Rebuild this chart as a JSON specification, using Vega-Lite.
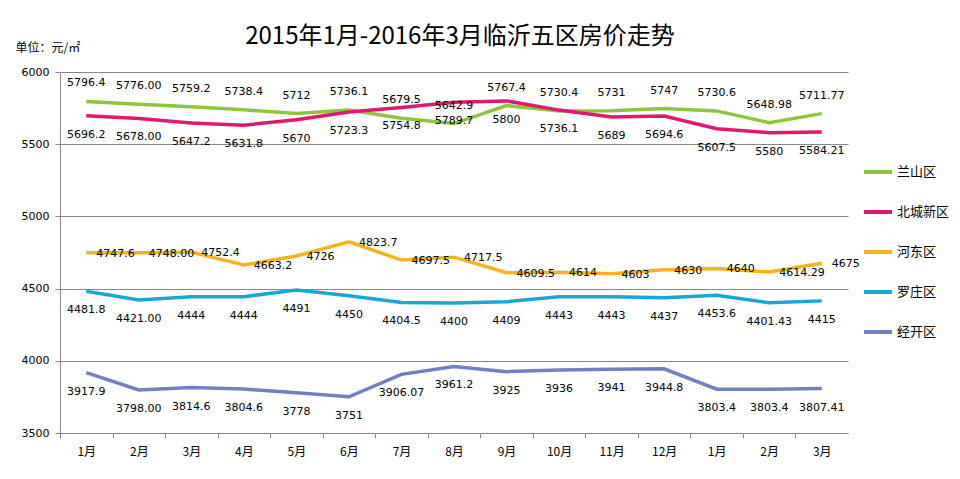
{
  "$schema": "https://vega.github.io/schema/vega-lite/v6.json",
  "width": 788,
  "height": 361,
  "autosize": {"type": "none"},
  "padding": {"left": 60, "top": 72, "right": 112, "bottom": 46},
  "background": "white",
  "title": {
    "text": "2015年1月-2016年3月临沂五区房价走势",
    "font": "Noto Sans CJK SC",
    "fontSize": 24,
    "fontWeight": "normal",
    "color": "#000000",
    "anchor": "middle",
    "baseline": "bottom",
    "offset": -32,
    "dx": 6
  },
  "config": {
    "view": {"stroke": null},
    "axis": {
      "domainColor": "#888888",
      "tickColor": "#888888",
      "gridColor": "#888888",
      "labelColor": "#000000",
      "labelFont": "DejaVu Sans",
      "labelFontSize": 11
    },
    "legend": {
      "labelFont": "Noto Sans CJK SC",
      "labelFontSize": 13,
      "labelColor": "#000000"
    }
  },
  "datasets": {
    "prices": [
      {"district": "兰山区", "month": "2015-01", "value": 5796.4, "label": "5796.4"},
      {"district": "兰山区", "month": "2015-02", "value": 5776.0, "label": "5776.00"},
      {"district": "兰山区", "month": "2015-03", "value": 5759.2, "label": "5759.2"},
      {"district": "兰山区", "month": "2015-04", "value": 5738.4, "label": "5738.4"},
      {"district": "兰山区", "month": "2015-05", "value": 5712, "label": "5712"},
      {"district": "兰山区", "month": "2015-06", "value": 5736.1, "label": "5736.1"},
      {"district": "兰山区", "month": "2015-07", "value": 5679.5, "label": "5679.5"},
      {"district": "兰山区", "month": "2015-08", "value": 5642.9, "label": "5642.9"},
      {"district": "兰山区", "month": "2015-09", "value": 5767.4, "label": "5767.4"},
      {"district": "兰山区", "month": "2015-10", "value": 5730.4, "label": "5730.4"},
      {"district": "兰山区", "month": "2015-11", "value": 5731, "label": "5731"},
      {"district": "兰山区", "month": "2015-12", "value": 5747, "label": "5747"},
      {"district": "兰山区", "month": "2016-01", "value": 5730.6, "label": "5730.6"},
      {"district": "兰山区", "month": "2016-02", "value": 5648.98, "label": "5648.98"},
      {"district": "兰山区", "month": "2016-03", "value": 5711.77, "label": "5711.77"},
      {"district": "北城新区", "month": "2015-01", "value": 5696.2, "label": "5696.2"},
      {"district": "北城新区", "month": "2015-02", "value": 5678.0, "label": "5678.00"},
      {"district": "北城新区", "month": "2015-03", "value": 5647.2, "label": "5647.2"},
      {"district": "北城新区", "month": "2015-04", "value": 5631.8, "label": "5631.8"},
      {"district": "北城新区", "month": "2015-05", "value": 5670, "label": "5670"},
      {"district": "北城新区", "month": "2015-06", "value": 5723.3, "label": "5723.3"},
      {"district": "北城新区", "month": "2015-07", "value": 5754.8, "label": "5754.8"},
      {"district": "北城新区", "month": "2015-08", "value": 5789.7, "label": "5789.7"},
      {"district": "北城新区", "month": "2015-09", "value": 5800, "label": "5800"},
      {"district": "北城新区", "month": "2015-10", "value": 5736.1, "label": "5736.1"},
      {"district": "北城新区", "month": "2015-11", "value": 5689, "label": "5689"},
      {"district": "北城新区", "month": "2015-12", "value": 5694.6, "label": "5694.6"},
      {"district": "北城新区", "month": "2016-01", "value": 5607.5, "label": "5607.5"},
      {"district": "北城新区", "month": "2016-02", "value": 5580, "label": "5580"},
      {"district": "北城新区", "month": "2016-03", "value": 5584.21, "label": "5584.21"},
      {"district": "河东区", "month": "2015-01", "value": 4747.6, "label": "4747.6"},
      {"district": "河东区", "month": "2015-02", "value": 4748.0, "label": "4748.00"},
      {"district": "河东区", "month": "2015-03", "value": 4752.4, "label": "4752.4"},
      {"district": "河东区", "month": "2015-04", "value": 4663.2, "label": "4663.2"},
      {"district": "河东区", "month": "2015-05", "value": 4726, "label": "4726"},
      {"district": "河东区", "month": "2015-06", "value": 4823.7, "label": "4823.7"},
      {"district": "河东区", "month": "2015-07", "value": 4697.5, "label": "4697.5"},
      {"district": "河东区", "month": "2015-08", "value": 4717.5, "label": "4717.5"},
      {"district": "河东区", "month": "2015-09", "value": 4609.5, "label": "4609.5"},
      {"district": "河东区", "month": "2015-10", "value": 4614, "label": "4614"},
      {"district": "河东区", "month": "2015-11", "value": 4603, "label": "4603"},
      {"district": "河东区", "month": "2015-12", "value": 4630, "label": "4630"},
      {"district": "河东区", "month": "2016-01", "value": 4640, "label": "4640"},
      {"district": "河东区", "month": "2016-02", "value": 4614.29, "label": "4614.29"},
      {"district": "河东区", "month": "2016-03", "value": 4675, "label": "4675"},
      {"district": "罗庄区", "month": "2015-01", "value": 4481.8, "label": "4481.8"},
      {"district": "罗庄区", "month": "2015-02", "value": 4421.0, "label": "4421.00"},
      {"district": "罗庄区", "month": "2015-03", "value": 4444, "label": "4444"},
      {"district": "罗庄区", "month": "2015-04", "value": 4444, "label": "4444"},
      {"district": "罗庄区", "month": "2015-05", "value": 4491, "label": "4491"},
      {"district": "罗庄区", "month": "2015-06", "value": 4450, "label": "4450"},
      {"district": "罗庄区", "month": "2015-07", "value": 4404.5, "label": "4404.5"},
      {"district": "罗庄区", "month": "2015-08", "value": 4400, "label": "4400"},
      {"district": "罗庄区", "month": "2015-09", "value": 4409, "label": "4409"},
      {"district": "罗庄区", "month": "2015-10", "value": 4443, "label": "4443"},
      {"district": "罗庄区", "month": "2015-11", "value": 4443, "label": "4443"},
      {"district": "罗庄区", "month": "2015-12", "value": 4437, "label": "4437"},
      {"district": "罗庄区", "month": "2016-01", "value": 4453.6, "label": "4453.6"},
      {"district": "罗庄区", "month": "2016-02", "value": 4401.43, "label": "4401.43"},
      {"district": "罗庄区", "month": "2016-03", "value": 4415, "label": "4415"},
      {"district": "经开区", "month": "2015-01", "value": 3917.9, "label": "3917.9"},
      {"district": "经开区", "month": "2015-02", "value": 3798.0, "label": "3798.00"},
      {"district": "经开区", "month": "2015-03", "value": 3814.6, "label": "3814.6"},
      {"district": "经开区", "month": "2015-04", "value": 3804.6, "label": "3804.6"},
      {"district": "经开区", "month": "2015-05", "value": 3778, "label": "3778"},
      {"district": "经开区", "month": "2015-06", "value": 3751, "label": "3751"},
      {"district": "经开区", "month": "2015-07", "value": 3906.07, "label": "3906.07"},
      {"district": "经开区", "month": "2015-08", "value": 3961.2, "label": "3961.2"},
      {"district": "经开区", "month": "2015-09", "value": 3925, "label": "3925"},
      {"district": "经开区", "month": "2015-10", "value": 3936, "label": "3936"},
      {"district": "经开区", "month": "2015-11", "value": 3941, "label": "3941"},
      {"district": "经开区", "month": "2015-12", "value": 3944.8, "label": "3944.8"},
      {"district": "经开区", "month": "2016-01", "value": 3803.4, "label": "3803.4"},
      {"district": "经开区", "month": "2016-02", "value": 3803.4, "label": "3803.4"},
      {"district": "经开区", "month": "2016-03", "value": 3807.41, "label": "3807.41"}
    ]
  },
  "data": {"name": "prices"},
  "encoding": {
    "x": {
      "field": "month",
      "type": "ordinal",
      "scale": {"type": "point", "padding": 0.5},
      "axis": {
        "title": null,
        "labelAngle": 0,
        "labelExpr": "toNumber(slice(datum.label, 5)) + '月'",
        "labelFont": "Noto Sans CJK SC",
        "labelFontSize": 12,
        "labelPadding": 8,
        "tickSize": 5,
        "tickOffset": -26.27,
        "labelOffset": 26.27,
        "grid": false
      }
    },
    "y": {
      "field": "value",
      "type": "quantitative",
      "scale": {"domain": [3500, 6000], "nice": false, "zero": false},
      "axis": {
        "values": [3500, 4000, 4500, 5000, 5500, 6000],
        "format": "d",
        "grid": true,
        "tickSize": 5,
        "labelPadding": 6,
        "title": "单位：元/㎡",
        "titleAngle": 0,
        "titleAlign": "left",
        "titleBaseline": "alphabetic",
        "titleX": -45,
        "titleY": -21,
        "titleFont": "Noto Sans CJK SC",
        "titleFontSize": 12,
        "titleFontWeight": "normal",
        "titleColor": "#000000"
      }
    }
  },
  "layer": [
    {
      "mark": {"type": "line", "strokeWidth": 3.5},
      "encoding": {
        "color": {
          "field": "district",
          "type": "nominal",
          "scale": {
            "domain": ["兰山区", "北城新区", "河东区", "罗庄区", "经开区"],
            "range": ["#8CC63F", "#E0186E", "#F5B41E", "#1AA7D6", "#7080C0"]
          },
          "legend": {
            "title": null,
            "orient": "none",
            "legendX": 802,
            "legendY": 84,
            "symbolType": "stroke",
            "symbolStrokeWidth": 4,
            "symbolSize": 784,
            "rowPadding": 16,
            "labelOffset": 3
          }
        }
      }
    },
    {
      "transform": [{"filter": "datum.district === '兰山区'"}],
      "mark": {"type": "text", "dy": -18, "font": "DejaVu Sans", "fontSize": 11, "color": "#000000"},
      "encoding": {"text": {"field": "label"}}
    },
    {
      "transform": [{"filter": "datum.district === '北城新区' || datum.district === '罗庄区' || datum.district === '经开区'"}],
      "mark": {"type": "text", "dy": 19, "font": "DejaVu Sans", "fontSize": 11, "color": "#000000"},
      "encoding": {"text": {"field": "label"}}
    },
    {
      "transform": [{"filter": "datum.district === '河东区'"}],
      "mark": {"type": "text", "align": "left", "dx": 10, "dy": 1, "font": "DejaVu Sans", "fontSize": 11, "color": "#000000"},
      "encoding": {"text": {"field": "label"}}
    }
  ]
}
